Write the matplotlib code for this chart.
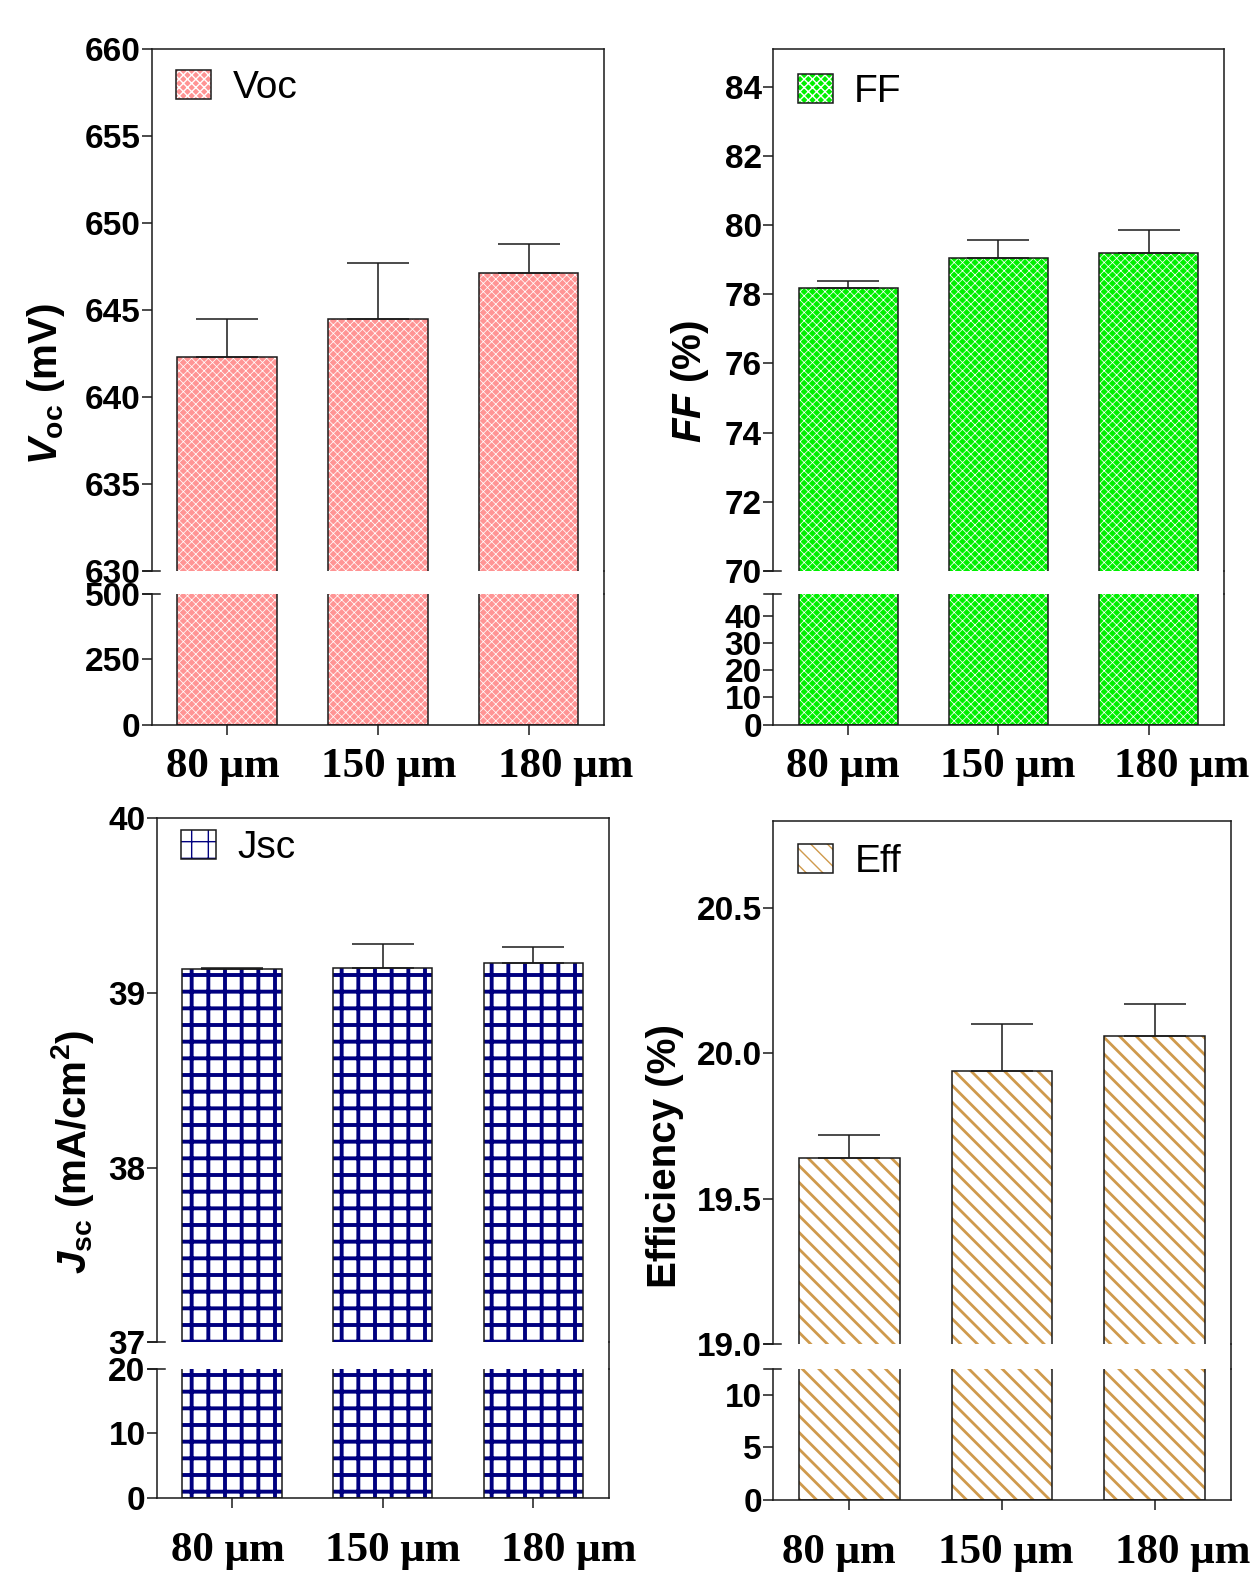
import matplotlib
matplotlib.use('Agg')
import matplotlib.pyplot as plt
from matplotlib.lines import Line2D
from matplotlib.patches import Patch
from matplotlib.legend_handler import HandlerTuple
from matplotlib.transforms import ScaledTranslation
import numpy as np

# data
thickness = ['80 μm', '150 μm', '180 μm']
voc = [642.3, 644.45, 647.1]
voc_err = [2.15, 3.25, 1.7]
ff = [78.17, 79.04, 79.19]
ff_err = [0.2, 0.53, 0.67]
jsc = [39.14, 39.145, 39.174]
jsc_err = [0.005, 0.135, 0.087]
eff = [19.64, 19.94, 20.06]
eff_err = [0.08, 0.16, 0.11]

plt.rcParams['font.family'] = ['Liberation Sans', 'DejaVu Sans']
plt.rcParams['font.weight'] = 'bold'
plt.rcParams['mathtext.fontset'] = 'custom'
plt.rcParams['mathtext.rm'] = 'Liberation Sans:bold'
plt.rcParams['mathtext.it'] = 'Liberation Sans:italic:bold'
plt.rcParams['mathtext.bf'] = 'Liberation Sans:bold'

EDGE = '#1a1a1a'
LW = 1.1

fig = plt.figure(figsize=(12.54, 15.85), dpi=100)


def panel(rect_up, rect_lo, values, errors, up_lim, up_ticks, lo_lim, lo_ticks,
          face, hatch, hcolor, hlw, label, leg_anchor, xpad, xshift, fmt='%d'):
    ax_up = fig.add_axes(rect_up)
    ax_lo = fig.add_axes(rect_lo)
    x = np.arange(len(thickness))
    for ax in (ax_up, ax_lo):
        fill = ax.bar(x, values, width=0.66, color=face, edgecolor=hcolor,
                      hatch=hatch, linewidth=0)
        for b in fill:
            if hasattr(b, 'set_hatch_linewidth'):
                b.set_hatch_linewidth(hlw)
        ax.bar(x, values, width=0.66, facecolor='none', edgecolor=EDGE, linewidth=LW)
        ax.set_xlim(-0.5, 2.5)
        for s in ax.spines.values():
            s.set_linewidth(LW)
            s.set_color(EDGE)
        ax.tick_params(axis='y', direction='out', length=7, width=LW, pad=1,
                       labelsize=24, color=EDGE)
    ax_up.errorbar(x, values, yerr=[np.zeros(len(x)), errors], fmt='none',
                   ecolor=EDGE, elinewidth=LW, capsize=22, capthick=LW, zorder=5)

    ax_up.set_ylim(*up_lim)
    ax_up.set_yticks(up_ticks, [fmt % t for t in up_ticks])
    ax_up.spines['bottom'].set_visible(False)
    ax_up.tick_params(axis='x', bottom=False, labelbottom=False)

    ax_lo.set_ylim(*lo_lim)
    ax_lo.set_yticks(lo_ticks, ['%d' % t for t in lo_ticks])
    ax_lo.spines['top'].set_visible(False)
    ax_lo.set_xticks(x, thickness, fontfamily='Liberation Serif', fontsize=31,
                     fontweight='bold')
    ax_lo.tick_params(axis='x', direction='out', length=7, width=LW, pad=xpad, color=EDGE)
    # category labels sit a little to the right of their ticks in the original
    for lab, dx in zip(ax_lo.get_xticklabels(), xshift):
        lab.set_transform(lab.get_transform() + ScaledTranslation(dx / 100, 0, fig.dpi_scale_trans))

    # break marks on the left axis
    for ax, yy in ((ax_up, 0), (ax_lo, 1)):
        ax.add_line(Line2D([-0.02, 0.018], [yy, yy], transform=ax.transAxes,
                           color=EDGE, lw=LW, clip_on=False))
    # right frame runs through the gap
    xr = rect_up[0] + rect_up[2]
    fig.add_artist(Line2D([xr, xr], [rect_lo[1] + rect_lo[3], rect_up[1]],
                          transform=fig.transFigure, color=EDGE, lw=LW))

    h_fill = Patch(facecolor=face, edgecolor=hcolor, hatch=hatch, linewidth=0)
    h_edge = Patch(facecolor='none', edgecolor=EDGE, linewidth=LW)
    ax_up.legend(handles=[(h_fill, h_edge)], labels=[label], loc='upper left',
                 bbox_to_anchor=leg_anchor, frameon=False,
                 prop={'family': 'Liberation Sans', 'weight': 'normal', 'size': 28},
                 handlelength=0.9, handleheight=0.77, handletextpad=0.55,
                 borderpad=0, borderaxespad=0,
                 handler_map={tuple: HandlerTuple(ndivide=1, pad=0)})
    return ax_up, ax_lo


panel([0.1209, 0.6397, 0.3608, 0.3297], [0.1209, 0.5429, 0.3608, 0.0823],
      voc, voc_err, (630, 660), np.arange(630, 661, 5), (0, 500), [0, 250, 500],
      '#ff9494', 'xxxx', 'white', 0.55, 'Voc', (0.055, 0.958), 10, [-4, 11, 37])

panel([0.6164, 0.6397, 0.3596, 0.3297], [0.6164, 0.5429, 0.3596, 0.0823],
      ff, ff_err, (70, 85.1), np.arange(70, 85, 2), (0, 48), [0, 10, 20, 30, 40],
      '#00f000', 'xxxx', 'white', 0.55, 'FF', (0.055, 0.952), 10, [-5, 9, 33])

panel([0.1249, 0.1533, 0.3606, 0.3303], [0.1249, 0.0551, 0.3606, 0.0812],
      jsc, jsc_err, (37, 40), [37, 38, 39, 40], (0, 20), [0, 10, 20],
      'white', '+', '#000080', 2.8, 'Jsc', (0.055, 0.978), 18, [-4, 10, 35])

panel([0.6164, 0.1520, 0.3652, 0.3303], [0.6164, 0.0539, 0.3652, 0.0824],
      eff, eff_err, (19.0, 20.8), [19.0, 19.5, 20.0, 20.5], (0, 12.5), [0, 5, 10],
      'white', '\\\\', '#cf9a4c', 2.0, 'Eff', (0.055, 0.955), 18, [-10, 4, 28], fmt='%.1f')

# y axis titles
fig.text(46 / 1254, 1 - 384 / 1585, r'$V_{\mathbf{oc}}$ (mV)', rotation=90,
         ha='center', va='center', fontsize=29)
fig.text(690 / 1254, 1 - 381 / 1585, r'$FF$ (%)', rotation=90,
         ha='center', va='center', fontsize=29)
fig.text(72 / 1254, 1 - 1152 / 1585, r'$J_{\mathbf{sc}}$ (mA/cm$^{\mathbf{2}}$)', rotation=90,
         ha='center', va='center', fontsize=29)
fig.text(665 / 1254, 1 - 1156 / 1585, 'Efficiency (%)', rotation=90,
         ha='center', va='center', fontsize=29)

fig.savefig('out.png', dpi=100, facecolor='white')
